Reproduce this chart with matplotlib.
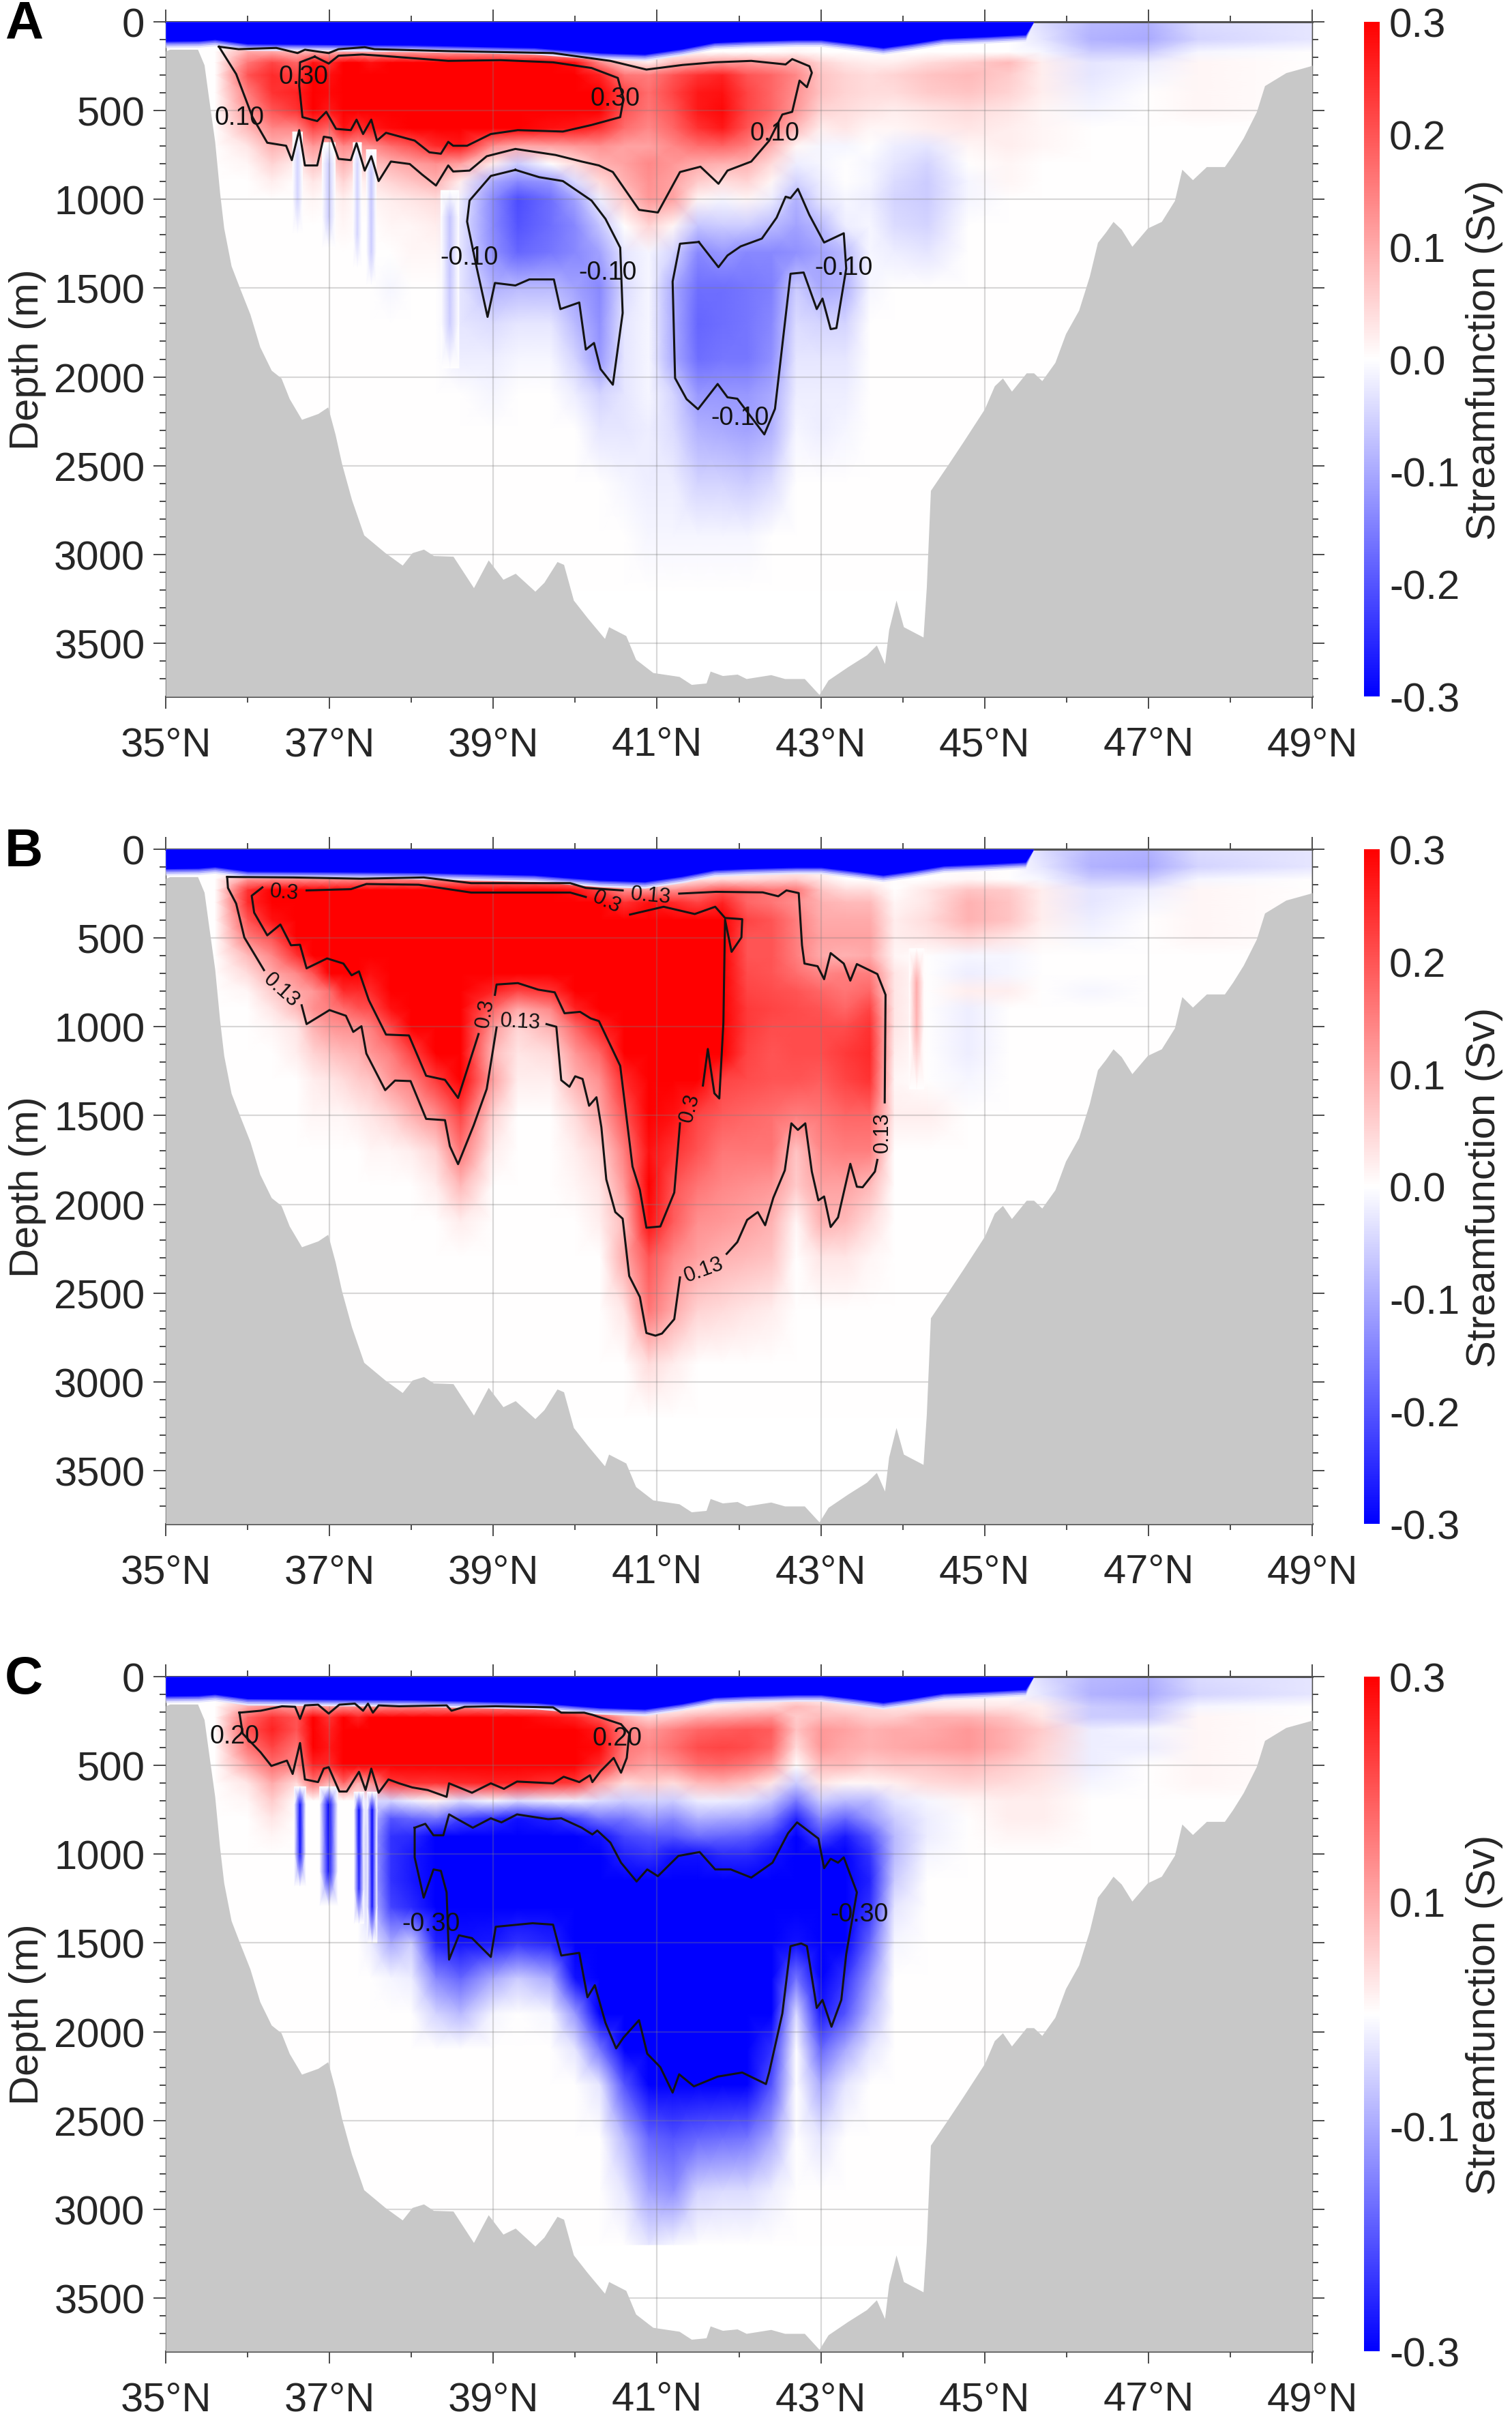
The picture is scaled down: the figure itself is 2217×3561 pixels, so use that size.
import numpy as np
import matplotlib
matplotlib.use('Agg')
import matplotlib.pyplot as plt
from matplotlib.colors import LinearSegmentedColormap

plt.rcParams['font.family'] = ['Liberation Sans', 'DejaVu Sans']
plt.rcParams['axes.unicode_minus'] = False

LATS = [35.0, 35.6, 36.0, 36.3, 36.6, 36.8, 37.0, 37.17, 37.35, 37.5,
        37.75, 38.0, 38.3, 38.6, 39.0, 39.3, 39.7, 40.0, 40.3, 40.6,
        40.9, 41.2, 41.5, 41.8, 42.1, 42.4, 42.7, 43.0, 43.3, 43.6,
        43.9, 44.3, 44.8, 45.3, 45.7, 46.3, 47.0, 47.6, 49.0]
DEPTHS = [0, 100, 170, 230, 300, 400, 500, 600, 700, 800, 900, 1000, 1150,
          1300, 1500, 1700, 1900, 2100, 2300, 2600, 2900, 3200]

# top two rows are the same in all panels (hundredths of Sv)
SURFACE = [
    [0]*34 + [-4, -8, -9, -4, -3],
    [0]*34 + [-3, -9, -10, -5, -3],
]

FIELD_A = [
    [0,0,10,10,8,9,9,10,11,10, 11,11,11,11,11,10,9,7,2,0, 0,0,0,0,0,0,1,0,0,0, 0,0,0,0,-1,-6,-6,-1,0],
    [0,0,16,22,18,28,24,30,30,28, 30,30,30,30,30,30,30,28,14,6, 2,8,11,12,12,11,10,5,3,2, 2,4,6,8,2,-3,-2,1,0],
    [0,0,20,25,22,30,28,30,30,30, 30,30,30,30,30,30,30,30,26,16, 15,20,24,26,20,18,14,7,5,4, 5,7,8,6,2,-3,-1,1,0],
    [0,0,15,24,26,30,29,30,30,30, 30,30,30,30,30,30,30,30,30,22, 17,22,27,28,22,18,13,7,5,4, 4,6,7,5,2,-2,0,1,0],
    [0,0,12,20,24,30,27,30,30,30, 30,30,30,30,30,30,30,30,30,20, 16,20,27,29,22,18,12,5,4,3, 2,3,4,3,1,-1,0,1,0],
    [0,0,8,14,14,22,18,28,24,27, 29,30,30,30,30,30,28,27,24,17, 14,18,24,27,20,15,8,2,3,1, 1,2,3,2,1,0,0,0,0],
    [0,0,3,9,7,12,10,14,12,13, 17,20,25,27,13,10,11,12,13,11, 11,14,17,18,15,9,1,-1,-1,0, -2,-3,1,2,1,0,0,0,0],
    [0,0,1,5,2,7,4,9,5,7, 9,11,13,11,2,-6,0,4,9,11, 14,12,10,9,9,4,-2,-1,0,-1, -3,-5,0,1,0,0,0,0,0],
    [0,0,0,2,0,3,1,5,1,3, 5,7,9,2,-10,-14,-12,-4,4,9, 13,11,6,4,5,1,-5,-2,0,-1, -4,-6,-1,1,0,0,0,0,0],
    [0,0,0,0,0,1,0,2,0,1, 2,3,4,-2,-14,-21,-17,-11,-2,6, 12,11,1,-1,1,-2,-9,-3,-1,-2, -5,-6,-1,0,0,0,0,0,0],
    [0,0,0,0,0,0,0,1,0,0, 1,1,2,-3,-14,-20,-17,-14,-7,0, 5,1,-7,-6,-6,-8,-11,-8,-2,-1, -4,-5,0,0,0,0,0,0,0],
    [0,0,0,0,0,0,0,0,0,0, 0,1,1,-3,-13,-18,-16,-14,-11,-3, -1,-5,-14,-12,-14,-14,-13,-11,-8,-1, -2,-3,0,0,0,0,0,0,0],
    [0,0,0,0,0,0,0,0,0,0, -1,0,0,-3,-9,-8,-8,-11,-14,-4, -1,-10,-17,-17,-16,-15,-6,-10,-9,-1, 0,0,0,0,0,0,0,0,0],
    [0,0,0,0,0,0,0,0,0,0, 0,0,0,-3,-4,-3,-3,-8,-13,-3, -1,-10,-18,-17,-16,-14,-4,-5,-5,0, 0,0,0,0,0,0,0,0,0],
    [0,0,0,0,0,0,0,0,0,0, 0,0,0,-2,-2,-1,-1,-5,-12,-3, -1,-10,-17,-16,-16,-13,-3,-3,-3,0, 0,0,0,0,0,0,0,0,0],
    [0,0,0,0,0,0,0,0,0,0, 0,0,0,0,-1,0,0,-2,-5,-3, -1,-5,-12,-12,-12,-10,-2,-2,-2,0, 0,0,0,0,0,0,0,0,0],
    [0,0,0,0,0,0,0,0,0,0, 0,0,0,0,0,0,0,0,-3,-3, -2,-4,-9,-10,-11,-9,-1,-2,-1,0, 0,0,0,0,0,0,0,0,0],
    [0,0,0,0,0,0,0,0,0,0, 0,0,0,0,0,0,0,0,0,-1, -2,-2,-5,-5,-6,-4,0,0,0,0, 0,0,0,0,0,0,0,0,0],
    [0,0,0,0,0,0,0,0,0,0, 0,0,0,0,0,0,0,0,0,0, -1,-1,-1,-1,-1,0,0,0,0,0, 0,0,0,0,0,0,0,0,0],
    [0]*39,
]

FIELD_B = [
    [0,0,12,13,13,13,13,13,14,14, 14,14,14,14,14,14,13,12,3,0, 0,0,3,4,4,5,6,3,0,0, 0,0,1,0,-1,-6,-6,-1,0],
    [0,0,24,30,30,30,30,30,30,30, 30,30,30,30,30,30,30,28,22,13, 12,13,16,20,18,16,16,7,4,4, 0,3,7,6,2,-3,-2,1,0],
    [0,0,25,30,30,30,30,30,30,30, 30,30,30,30,30,30,30,30,30,24, 28,25,22,26,18,16,13,9,8,8, 1,3,9,7,2,-3,-1,1,0],
    [0,0,20,28,30,30,30,30,30,30, 30,30,30,30,30,30,30,30,30,30, 30,30,30,30,22,20,15,10,10,10, 2,4,9,7,2,-2,0,1,0],
    [0,0,15,20,30,30,30,30,30,30, 30,30,30,30,30,30,30,30,30,30, 30,30,30,30,20,20,15,11,11,11, 2,3,5,3,1,-1,0,1,0],
    [0,0,8,14,24,30,30,30,30,30, 30,30,30,30,30,30,30,30,30,30, 30,30,30,30,20,20,15,10,9,10, 1,0,-1,-1,0,0,0,0,0],
    [0,0,4,10,14,20,30,30,30,28, 30,30,30,30,30,30,30,30,30,30, 30,30,30,30,21,20,17,14,15,15, 3,0,-2,-1,0,0,0,0,0],
    [0,0,1,6,10,12,17,25,25,25, 30,30,30,30,26,22,24,30,30,30, 30,30,30,30,22,21,20,18,16,18, 3,0,2,2,0,-1,0,0,0],
    [0,0,0,3,8,13,15,17,20,21, 28,30,30,30,18,10,14,26,30,30, 30,30,30,30,23,22,21,20,18,22, 3,0,-2,0,0,0,0,0,0],
    [0,0,0,1,3,9,12,13,13,15, 22,30,30,30,12,5,9,18,26,30, 30,30,30,30,23,21,21,21,21,24, 3,0,-2,0,0,0,0,0,0],
    [0,0,0,0,2,5,7,8,9,12, 15,22,30,30,8,3,4,12,18,30, 30,30,30,30,22,20,21,21,23,25, 2,0,-2,0,0,0,0,0,0],
    [0,0,0,0,0,2,3,4,6,7, 12,15,23,30,11,2,2,9,13,25, 30,30,30,22,21,20,20,19,22,24, 1,0,-1,0,0,0,0,0,0],
    [0,0,0,0,0,1,1,1,2,3, 5,9,13,22,5,0,0,4,10,20, 30,28,22,19,18,17,15,16,18,18, 2,2,0,0,0,0,0,0,0],
    [0,0,0,0,0,0,0,0,0,1, 1,2,5,16,2,0,0,2,5,15, 28,24,20,16,16,16,7,14,15,15, 0,0,0,0,0,0,0,0,0],
    [0,0,0,0,0,0,0,0,0,0, 0,0,2,8,0,0,0,1,3,12, 30,20,16,14,13,12,6,11,11,8, 0,0,0,0,0,0,0,0,0],
    [0,0,0,0,0,0,0,0,0,0, 0,0,0,2,0,0,0,0,2,8, 28,19,13,12,11,9,1,9,8,4, 0,0,0,0,0,0,0,0,0],
    [0,0,0,0,0,0,0,0,0,0, 0,0,0,0,0,0,0,0,0,10, 20,14,11,9,8,7,0,3,3,1, 0,0,0,0,0,0,0,0,0],
    [0,0,0,0,0,0,0,0,0,0, 0,0,0,0,0,0,0,0,0,3, 16,10,5,4,3,2,0,0,0,0, 0,0,0,0,0,0,0,0,0],
    [0,0,0,0,0,0,0,0,0,0, 0,0,0,0,0,0,0,0,0,0, 4,2,0,0,0,0,0,0,0,0, 0,0,0,0,0,0,0,0,0],
    [0]*39,
]

FIELD_C = [
    [0,0,10,14,11,14,12,13,14,13, 14,14,14,14,14,14,14,12,3,0, 0,0,1,3,4,5,8,6,4,4, 3,3,3,3,2,-6,-7,-1,0],
    [0,0,18,24,20,30,24,30,26,30, 30,30,30,30,30,30,28,26,20,10, 5,7,10,11,12,13,6,8,8,6, 6,9,9,7,3,-6,-6,1,0],
    [0,0,20,26,20,30,26,30,30,30, 30,30,30,30,30,30,30,30,27,15, 12,15,18,19,20,19,7,12,11,9, 10,10,12,9,6,-2,-1,1,0],
    [0,0,16,22,16,30,27,30,30,30, 30,30,30,30,30,30,30,30,29,16, 14,17,21,22,21,18,4,12,10,9, 10,11,12,9,5,-2,-2,1,0],
    [0,0,10,17,14,26,25,30,30,30, 30,30,30,30,30,30,30,30,25,14, 11,13,17,18,16,12,0,8,8,6, 7,7,8,6,4,-2,0,1,0],
    [0,0,3,10,4,16,8,18,9,12, 23,24,24,25,26,26,24,23,11,4, 6,4,8,9,7,3,-6,3,1,1, 2,4,5,4,3,-1,0,1,0],
    [0,0,1,6,0,0,0,0,0,-4, -5,-2,1,-4,-1,-4,-2,-2,-4,-6, -5,-6,-2,-2,-3,-7,-16,-6,-8,-8, -3,-1,1,2,2,0,0,0,0],
    [0,0,0,3,0,0,0,0,0,-6, -20,-18,-16,-22,-25,-28,-26,-22,-16,-16, -12,-14,-9,-10,-11,-15,-26,-14,-18,-12, -6,-2,0,2,2,0,0,0,0],
    [0,0,0,1,0,0,0,0,0,-8, -24,-25,-30,-30,-30,-30,-30,-30,-28,-22, -20,-20,-17,-18,-19,-23,-30,-22,-27,-20, -8,-2,0,1,1,0,0,0,0],
    [0,0,0,0,0,0,0,0,0,-8, -24,-27,-30,-30,-30,-30,-30,-30,-30,-26, -24,-28,-28,-25,-25,-28,-30,-30,-30,-24, -8,-1,0,0,0,0,0,0,0],
    [0,0,0,0,0,0,0,0,0,-8, -24,-27,-30,-30,-30,-30,-30,-30,-30,-30, -30,-30,-30,-30,-30,-30,-30,-30,-30,-26, -6,0,0,0,0,0,0,0,0],
    [0,0,0,0,0,0,0,0,0,-6, -22,-25,-30,-30,-30,-30,-30,-30,-30,-30, -30,-30,-30,-30,-30,-30,-30,-30,-30,-24, -3,0,0,0,0,0,0,0,0],
    [0,0,0,0,0,0,0,0,0,-2, -10,-6,-26,-28,-27,-24,-26,-30,-30,-30, -30,-30,-30,-30,-30,-30,-28,-30,-30,-18, -1,0,0,0,0,0,0,0,0],
    [0,0,0,0,0,0,0,0,0,0, -1,-2,-14,-18,-10,-6,-10,-28,-30,-30, -30,-30,-30,-30,-30,-30,-16,-30,-24,-12, 0,0,0,0,0,0,0,0,0],
    [0,0,0,0,0,0,0,0,0,0, 0,0,-5,-8,-1,0,-1,-12,-30,-30, -30,-30,-30,-30,-30,-30,-4,-27,-20,-8, 0,0,0,0,0,0,0,0,0],
    [0,0,0,0,0,0,0,0,0,0, 0,0,0,0,0,0,0,-3,-16,-30, -30,-30,-30,-30,-30,-24,0,-18,-10,-3, 0,0,0,0,0,0,0,0,0],
    [0,0,0,0,0,0,0,0,0,0, 0,0,0,0,0,0,0,0,-3,-20, -30,-30,-30,-30,-30,-20,0,-10,-3,0, 0,0,0,0,0,0,0,0,0],
    [0,0,0,0,0,0,0,0,0,0, 0,0,0,0,0,0,0,0,0,-8, -18,-20,-18,-17,-16,-10,0,-3,0,0, 0,0,0,0,0,0,0,0,0],
    [0,0,0,0,0,0,0,0,0,0, 0,0,0,0,0,0,0,0,0,-3, -11,-13,-5,-4,-4,-2,0,0,0,0, 0,0,0,0,0,0,0,0,0],
    [0,0,0,0,0,0,0,0,0,0, 0,0,0,0,0,0,0,0,0,0, -3,-1,0,0,0,0,0,0,0,0, 0,0,0,0,0,0,0,0,0],
]

# narrow columns too thin for the grid above: west lat, centre lat, east lat, depths, values
STREAKS_A = [
    (36.55, 36.61, 36.67, [620, 750, 1000, 1190], [0, -5, -5, 0]),
    (36.91, 36.99, 37.07, [680, 800, 1100, 1270], [0, -6, -6, 0]),
    (37.29, 37.34, 37.39, [680, 800, 1200, 1380], [0, -5, -5, 0]),
    (37.45, 37.51, 37.57, [720, 850, 1300, 1480], [0, -7, -6, 0]),
    (38.36, 38.47, 38.58, [950, 1100, 1700, 1950], [0, -7, -6, 0]),
]
STREAKS_B = [
    (44.08, 44.17, 44.26, [560, 750, 1000, 1350], [0, 10, 9, 0]),
]
STREAKS_C = [
    (36.57, 36.64, 36.71, [620, 720, 1000, 1180], [0, -28, -28, 0]),
    (36.88, 36.99, 37.10, [620, 720, 1100, 1290], [0, -30, -28, 0]),
    (37.30, 37.36, 37.42, [650, 750, 1200, 1390], [0, -30, -26, 0]),
    (37.46, 37.52, 37.58, [650, 750, 1300, 1500], [0, -30, -28, 0]),
]

# surface layer of strong negative values
BAND_LAT = [35.0, 35.4, 35.6, 36.0, 38.0, 39.5, 40.3, 40.85, 41.3, 41.7, 42.1, 42.7, 43.0,
            43.4, 43.76, 44.1, 44.5, 45.0, 45.5, 45.6]
BAND_DEPTH = [110, 108, 100, 125, 132, 147, 176, 184, 154, 118, 110, 103, 103,
              125, 147, 125, 95, 85, 73, 0]

BATHY_LAT = [35.0, 35.05, 35.39, 35.47, 35.52, 35.6, 35.66, 35.71, 35.8, 35.91, 36.03, 36.15, 36.29, 36.41, 36.51,
             36.66, 36.86, 36.98, 37.07, 37.15, 37.27, 37.42, 37.68, 37.89, 38.01, 38.15, 38.27, 38.51, 38.76, 38.94,
             39.12, 39.27, 39.51, 39.62, 39.78, 39.86, 39.98, 40.15, 40.36, 40.41, 40.62, 40.74, 40.95, 41.27, 41.42,
             41.6, 41.65, 41.8, 41.98, 42.09, 42.39, 42.56, 42.8, 42.98, 43.09, 43.33, 43.56, 43.68, 43.78, 43.83,
             43.92, 44.01, 44.25, 44.29, 44.34, 44.56, 44.74, 45.0, 45.12, 45.22, 45.33, 45.51, 45.6, 45.7, 45.86,
             45.99, 46.15, 46.28, 46.38, 46.48, 46.57, 46.67, 46.8, 46.99, 47.16, 47.32, 47.41, 47.54, 47.71, 47.93,
             48.03, 48.16, 48.32, 48.42, 48.68, 48.97, 49.0]
BATHY_DEPTH = [165, 155, 155, 243, 412, 676, 963, 1162, 1375, 1507, 1647, 1831, 1963, 2007, 2123,
               2240, 2207, 2170, 2324, 2490, 2691, 2891, 2991, 3061, 2991, 2971, 3007, 3011, 3188, 3032,
               3141, 3107, 3208, 3158, 3041, 3057, 3258, 3358, 3474, 3408, 3458, 3591, 3666, 3688, 3733,
               3725, 3658, 3683, 3675, 3700, 3678, 3700, 3700, 3790, 3708, 3633, 3566, 3511, 3616, 3424,
               3258, 3408, 3466, 3183, 2640, 2490, 2365, 2180, 2051, 2007, 2081, 1978, 1978, 2022, 1919,
               1757, 1625, 1434, 1243, 1184, 1125, 1169, 1265, 1162, 1125, 1007, 831, 890, 816, 816,
               750, 654, 507, 360, 287, 250, 245]

# contours as (lat, depth)
A_010 = [(35.65, 140), (35.89, 154), (36.35, 147), (36.61, 176), (36.70, 157), (36.99, 176), (37.11, 154), (37.43, 143),
         (37.55, 154), (38.45, 165), (39.73, 176), (40.43, 220), (40.87, 269), (41.31, 243), (41.7, 228), (42.15, 220),
         (42.57, 240), (42.65, 210), (42.86, 250), (42.89, 287), (42.83, 368), (42.74, 331), (42.65, 507), (42.53, 522),
         (42.37, 669), (42.15, 787), (41.86, 838), (41.75, 912), (41.53, 816), (41.28, 846), (41.01, 1074), (40.78, 1059),
         (40.46, 846), (40.29, 809), (40.08, 787), (39.76, 750), (39.27, 716), (38.92, 757), (38.71, 838), (38.51, 843),
         (38.45, 809), (38.30, 922), (38.13, 860), (37.98, 801), (37.75, 787), (37.6, 897), (37.51, 757), (37.43, 838),
         (37.33, 684), (37.26, 779), (37.11, 772), (37.02, 654), (36.93, 647), (36.85, 809), (36.70, 809), (36.63, 610),
         (36.54, 779), (36.47, 698), (36.24, 681), (36.06, 537), (35.86, 294), (35.65, 140)]
A_030 = [(36.82, 196), (36.99, 235), (37.11, 191), (37.40, 184), (37.63, 191), (38.45, 220), (39.09, 216), (39.73, 228),
         (40.20, 260), (40.52, 316), (40.59, 434), (40.55, 537), (40.20, 581), (39.85, 618), (39.30, 610), (38.97, 632),
         (38.68, 698), (38.51, 698), (38.45, 676), (38.36, 743), (38.22, 735), (38.04, 669), (37.69, 625), (37.58, 669),
         (37.51, 551), (37.41, 632), (37.33, 551), (37.26, 610), (37.08, 603), (36.96, 507), (36.85, 559), (36.67, 537),
         (36.63, 360), (36.64, 228), (36.82, 196)]
A_M010_W = [(39.27, 834), (38.97, 868), (38.71, 1007), (38.68, 1125), (38.8, 1390), (38.93, 1662), (39.02, 1471),
            (39.27, 1485), (39.44, 1451), (39.74, 1451), (39.82, 1618), (40.05, 1581), (40.13, 1846), (40.23, 1809),
            (40.31, 1956), (40.46, 2044), (40.58, 1640), (40.55, 1272), (40.37, 1110), (40.2, 1007), (39.85, 897),
            (39.56, 875), (39.27, 834)]
A_M010_E = [(41.51, 1240), (41.28, 1250), (41.19, 1463), (41.22, 2007), (41.36, 2125), (41.5, 2182), (41.74, 2040),
            (41.86, 2115), (41.98, 2123), (42.31, 2324), (42.44, 2180), (42.63, 1419), (42.79, 1412), (42.95, 1618),
            (43.02, 1559), (43.12, 1731), (43.19, 1725), (43.31, 1390), (43.28, 1191), (43.04, 1243), (42.86, 1088),
            (42.72, 941), (42.63, 993), (42.57, 985), (42.46, 1103), (42.28, 1221), (42.02, 1265), (41.86, 1316),
            (41.75, 1382), (41.51, 1240)]

B_013_TOP = [(35.75, 156), (36.56, 159), (37.39, 166), (38.15, 159), (38.73, 191), (39.94, 191), (40.13, 218), (40.58, 232)]
B_013_E = [(41.27, 250), (41.72, 240), (42.29, 243), (42.48, 265), (42.58, 232), (42.73, 247), (42.77, 541), (42.8, 644),
           (42.96, 659), (43.04, 732), (43.12, 585), (43.28, 644), (43.36, 740), (43.44, 647), (43.69, 703), (43.79, 820),
           (43.78, 1426)]
B_013_S = [(43.69, 1750), (43.66, 1816), (43.51, 1904), (43.44, 1901), (43.36, 1772), (43.21, 2074), (43.12, 2128),
           (43.04, 1956), (42.97, 1978), (42.89, 1816), (42.81, 1544), (42.72, 1581), (42.64, 1544), (42.56, 1809),
           (42.42, 1963), (42.32, 2118), (42.23, 2044), (42.1, 2088), (41.98, 2213), (41.85, 2279)]
B_013_D = [(41.28, 2412), (41.21, 2647), (41.06, 2728), (40.98, 2740), (40.87, 2725), (40.79, 2522), (40.66, 2404),
           (40.58, 2081), (40.49, 2044), (40.38, 1860), (40.32, 1566), (40.26, 1397), (40.17, 1445), (40.09, 1294),
           (40.0, 1279), (39.93, 1338), (39.83, 1301), (39.77, 1000), (39.65, 985)]
B_013_M = [(39.04, 1004), (38.92, 1350), (38.76, 1556), (38.57, 1774), (38.47, 1673), (38.41, 1526), (38.18, 1519),
           (37.99, 1306), (37.8, 1303), (37.68, 1357), (37.45, 1151), (37.39, 997), (37.29, 1029), (37.2, 938), (37.0, 906),
           (36.72, 985), (36.66, 879)]
B_013_W = [(36.2, 681), (35.96, 497), (35.86, 306), (35.76, 218), (35.75, 156)]
B_03_TOP = [(36.72, 232), (37.26, 225), (37.45, 196), (38.09, 200), (38.73, 244), (39.94, 244), (40.13, 269)]
B_03_E = [(40.67, 368), (41.08, 324), (41.46, 365), (41.71, 324), (41.83, 387), (42.04, 394), (42.03, 497), (41.91, 578),
          (41.83, 397), (41.81, 978), (41.76, 1404), (41.7, 1375), (41.62, 1125), (41.56, 1331)]
B_03_D = [(41.28, 1544), (41.21, 1934), (41.04, 2125), (40.87, 2132), (40.79, 1919), (40.7, 1787), (40.55, 1220),
          (40.29, 968), (40.19, 953), (40.06, 916), (39.87, 924), (39.75, 806), (39.55, 791), (39.3, 754), (39.04, 762),
          (39.02, 820)]
B_03_M = [(38.82, 1041), (38.57, 1401), (38.41, 1299), (38.18, 1276), (37.97, 1049), (37.69, 1044), (37.48, 850),
          (37.36, 688), (37.27, 710), (37.17, 644), (36.97, 615), (36.72, 671), (36.64, 538), (36.53, 541), (36.4, 424),
          (36.24, 485), (36.08, 357), (36.05, 262), (36.18, 215)]

C_020 = [(35.9, 203), (36.16, 192), (36.42, 167), (36.58, 170), (36.64, 238), (36.7, 162), (36.86, 158), (36.99, 208),
         (37.12, 158), (37.31, 152), (37.41, 192), (37.47, 152), (37.53, 203), (37.6, 162), (37.85, 167), (38.43, 162),
         (38.49, 192), (38.65, 170), (39.03, 167), (39.73, 173), (39.83, 203), (40.11, 203), (40.21, 215), (40.56, 268),
         (40.66, 321), (40.63, 458), (40.56, 541), (40.47, 458), (40.31, 533), (40.21, 594), (40.18, 556), (40.05, 594),
         (39.86, 564), (39.73, 601), (39.29, 591), (39.13, 632), (38.97, 601), (38.74, 654), (38.46, 601), (38.43, 677),
         (38.2, 639), (38.01, 624), (37.85, 601), (37.72, 579), (37.6, 654), (37.51, 518), (37.44, 639), (37.36, 536),
         (37.21, 647), (37.12, 647), (36.99, 510), (36.93, 518), (36.86, 594), (36.7, 579), (36.64, 374), (36.55, 548),
         (36.48, 473), (36.29, 503), (36.16, 427), (35.94, 321), (35.9, 203)]
C_M030 = [(38.04, 851), (38.17, 829), (38.27, 894), (38.39, 894), (38.46, 776), (38.75, 851), (38.97, 798), (39.1, 821),
          (39.29, 776), (39.67, 803), (39.83, 798), (40.08, 851), (40.21, 889), (40.27, 867), (40.43, 935), (40.56, 1048),
          (40.75, 1154), (40.88, 1086), (41.01, 1124), (41.26, 1010), (41.52, 988), (41.71, 1086), (41.9, 1086),
          (42.15, 1132), (42.41, 1048), (42.6, 882), (42.71, 821), (42.97, 912), (43.04, 1079), (43.12, 1026), (43.21, 1048),
          (43.28, 1018), (43.44, 1215), (43.31, 1563), (43.25, 1821), (43.13, 1972), (43.02, 1821), (42.95, 1866),
          (42.83, 1518), (42.76, 1503), (42.63, 1518), (42.53, 1897), (42.37, 2227), (42.33, 2295), (42.04, 2230),
          (41.74, 2253), (41.45, 2308), (41.27, 2240), (41.19, 2343), (41.04, 2200), (40.88, 2124), (40.78, 1935),
          (40.59, 2033), (40.5, 2094), (40.37, 1950), (40.24, 1738), (40.15, 1806), (40.05, 1556), (39.83, 1571),
          (39.73, 1397), (39.48, 1389), (39.03, 1409), (38.97, 1579), (38.74, 1473), (38.58, 1457), (38.46, 1594),
          (38.43, 1215), (38.36, 1094), (38.27, 1086), (38.15, 1245), (38.04, 1018), (38.04, 851)]

# label text, lat, depth, rotation
A_LABELS = [('0.30', 36.68, 309, 0), ('0.30', 40.49, 431, 0), ('0.10', 35.9, 537, 0), ('0.10', 42.44, 625, 0),
            ('-0.10', 38.71, 1324, 0), ('-0.10', 40.4, 1409, 0), ('-0.10', 43.28, 1382, 0), ('-0.10', 42.01, 2227, 0)]
B_LABELS = [('0.3', 36.45, 240, -5), ('0.3', 40.38, 296, -25), ('0.13', 40.92, 259, -5), ('0.13', 36.41, 791, -42),
            ('0.3', 38.9, 920, 80), ('0.13', 39.33, 972, -3), ('0.3', 41.4, 1453, 75), ('0.13', 43.75, 1593, 90),
            ('0.13', 41.57, 2368, 20)]
C_LABELS = [('0.20', 35.84, 333, 0), ('0.20', 40.51, 344, 0), ('-0.30', 38.24, 1389, 0), ('-0.30', 43.47, 1336, 0)]

PANEL_TOPS = [33, 1246, 2459]
FIG_W = 2217
FIG_H = 3562
AX_H = 989
LABEL_GRAY = '#262626'
AXIS_GRAY = '#4a4a4a'
BAND_FADE = [(36, '#e4e4ff'), (26, '#b4b4ff'), (16, '#7878ff'), (7, '#3c3cff'), (0, '#0000ff')]


def draw_panel(top, letter, field, streaks, contours, labels, label_size, cbar_ticks):
    ax = fig.add_axes([243 / FIG_W, 1 - (top + AX_H) / FIG_H, 1681 / FIG_W, AX_H / FIG_H])
    cols, rows = np.meshgrid(LATS, DEPTHS)
    values = np.array(SURFACE + field) / 100.0
    mesh = ax.pcolormesh(cols, rows, values, shading='gouraud', cmap=cmap, vmin=-0.3, vmax=0.3, zorder=1)

    for west, centre, east, depths, vals in streaks:
        sx, sy = np.meshgrid([west, centre, east], depths)
        sc = np.array([[0, v, 0] for v in vals]) / 100.0
        ax.pcolormesh(sx, sy, sc, shading='gouraud', cmap=cmap, vmin=-0.3, vmax=0.3, zorder=1.5)

    for extra, colour in BAND_FADE:
        deep = [d + extra if d > 0 else 0 for d in BAND_DEPTH]
        ax.fill_between(BAND_LAT, 0, deep, color=colour, lw=0, zorder=3)
    ax.fill_between(BATHY_LAT, BATHY_DEPTH, 3800, color='#c8c8c8', lw=0, zorder=4)

    for line in contours:
        lat, dep = zip(*line)
        ax.plot(lat, dep, color='#141414', lw=2.2, zorder=6)
    for text, lat, dep, rot in labels:
        ax.text(lat, dep, text, fontsize=label_size, color='#111111', ha='center', va='center',
                rotation=rot, rotation_mode='anchor', zorder=7)

    ax.set_xlim(35, 49)
    ax.set_ylim(3800, 0)
    ax.set_xticks(np.arange(35, 50, 2))
    ax.set_xticklabels(['%d°N' % v for v in np.arange(35, 50, 2)])
    ax.set_xticks(np.arange(36, 49, 2), minor=True)
    ax.set_yticks(np.arange(0, 3501, 500))
    ax.set_yticks(np.arange(0, 3800, 100), minor=True)
    ax.grid(True, which='major', color='#808080', alpha=0.3, lw=1.6, zorder=5)
    ax.set_axisbelow(False)
    ax.tick_params(which='major', direction='out', length=13, width=1.4, color=AXIS_GRAY, top=True, right=True,
                   labelsize=43, labelcolor=LABEL_GRAY)
    ax.tick_params(axis='x', which='major', pad=18)
    ax.tick_params(axis='y', which='major', pad=9)
    ax.tick_params(which='minor', direction='out', length=6.5, width=1.4, color=AXIS_GRAY, top=True, right=True)
    for name, spine in ax.spines.items():
        spine.set_color(AXIS_GRAY)
        spine.set_linewidth(2.2 if name in ('top', 'bottom') else 1.0)

    cax = fig.add_axes([2000 / FIG_W, 1 - (top + AX_H) / FIG_H, 23 / FIG_W, AX_H / FIG_H])
    cbar = fig.colorbar(mesh, cax=cax, ticks=cbar_ticks, format='%.1f')
    cbar.outline.set_visible(False)
    cbar.ax.tick_params(length=0, labelsize=43, labelcolor=LABEL_GRAY, pad=10)

    mid = 1 - (top + AX_H / 2) / FIG_H
    fig.text(41 / FIG_W, mid, 'Depth (m)', rotation=90, ha='center', va='center', fontsize=43, color=LABEL_GRAY)
    fig.text(2176 / FIG_W, mid, 'Streamfunction (Sv)', rotation=90, ha='center', va='center',
             fontsize=43, color=LABEL_GRAY)
    fig.text(35 / FIG_W, 1 - (top + 3) / FIG_H, letter, fontsize=56, fontweight='bold', color='black',
             ha='center', va='center')


cmap = LinearSegmentedColormap.from_list('bwr_sv', ['#0000ff', '#ffffff', '#ff0000'], N=256)
fig = plt.figure(figsize=(FIG_W / 100.0, FIG_H / 100.0), dpi=100)

draw_panel(PANEL_TOPS[0], 'A', FIELD_A, STREAKS_A, [A_010, A_030, A_M010_W, A_M010_E], A_LABELS, 27,
           [-0.3, -0.2, -0.1, 0.0, 0.1, 0.2, 0.3])
draw_panel(PANEL_TOPS[1], 'B', FIELD_B, STREAKS_B,
           [B_013_TOP, B_013_E, B_013_S, B_013_D, B_013_M, B_013_W, B_03_TOP, B_03_E, B_03_D, B_03_M],
           B_LABELS, 22, [-0.3, -0.2, -0.1, 0.0, 0.1, 0.2, 0.3])
draw_panel(PANEL_TOPS[2], 'C', FIELD_C, STREAKS_C, [C_020, C_M030], C_LABELS, 27, [-0.3, -0.1, 0.1, 0.3])

fig.savefig('out.png', dpi=100)
